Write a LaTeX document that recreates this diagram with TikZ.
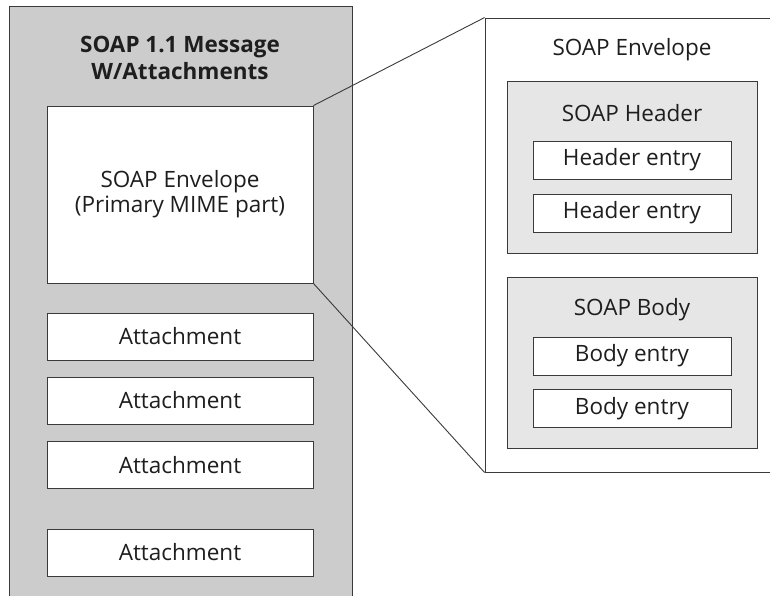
\documentclass[tikz,border=0pt]{standalone}
\usepackage{fontspec}
\setmainfont{Open Sans}
\definecolor{msggray}{HTML}{CCCCCC}
\definecolor{partgray}{HTML}{E6E6E6}
\definecolor{linegray}{HTML}{3A3A3A}
\definecolor{inkgray}{HTML}{1E1E1E}
\begin{document}
\begin{tikzpicture}[x=1pt,y=-1pt,
  box/.style={draw=linegray,line width=.9pt,inner sep=0pt,text=inkgray,
    font=\fontsize{22.5}{25}\selectfont,align=center},
  part/.style={box,fill=white,minimum width=266pt,minimum height=47pt},
  entry/.style={box,fill=white,minimum width=198pt,minimum height=38pt},
  label/.style={text=inkgray,inner sep=0pt,font=\fontsize{22.5}{25}\selectfont,align=center}]

\useasboundingbox (0,0) rectangle (770,596);
\clip (0,0) rectangle (770,596);

% left: the message
\node[box,fill=msggray,minimum width=343pt,minimum height=620pt] (msg) at (180.5,316) {};
\node[label,font=\bfseries\fontsize{22.5}{27}\selectfont] (title) at (180,58) {SOAP 1.1 Message\\W/Attachments};

\node[part,minimum height=177pt] (env) at (180,194.5) {SOAP Envelope\\(Primary MIME part)};
\node[part] (att1) at (180,336.5) {Attachment};
\node[part] (att2) at (180,400.5) {Attachment};
\node[part] (att3) at (180,465) {Attachment};
\node[part] (att4) at (180,552.5) {Attachment};

% right: the envelope opened up
\node[box,fill=white,minimum width=330pt,minimum height=454pt] (renv) at (650,245) {};
\node[label] (renvtitle) at (632,50) {SOAP Envelope};

\node[box,fill=partgray,minimum width=250pt,minimum height=172pt] (hdr) at (632,167) {};
\node[label] (hdrtitle) at (632,113) {SOAP Header};
\node[entry] (hent1) at (632,160) {Header entry};
\node[entry] (hent2) at (632,213) {Header entry};

\node[box,fill=partgray,minimum width=250pt,minimum height=171pt] (body) at (632,362.5) {};
\node[label] (bodytitle) at (632,310) {SOAP Body};
\node[entry] (bent1) at (632,356) {Body entry};
\node[entry] (bent2) at (632,408.5) {Body entry};

\draw[linegray,line width=.9pt] (env.north east) -- (renv.north west);
\draw[linegray,line width=.9pt] (env.south east) -- (renv.south west);

\end{tikzpicture}
\end{document}
